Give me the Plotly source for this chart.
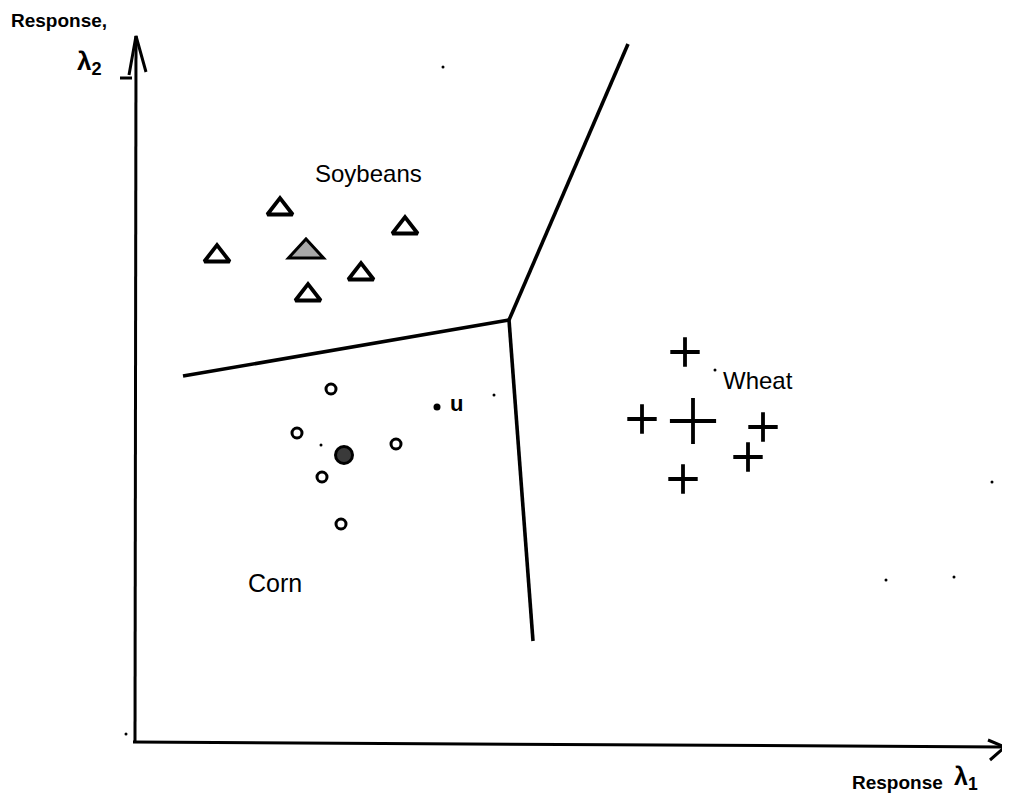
import plotly.graph_objects as go

# ---- data (x = response lambda1, y = response lambda2) ----
soy_x = [14.7, 8.4, 27.2, 22.8, 17.5]
soy_y = [53.3, 48.6, 51.4, 46.8, 44.7]
soy_mean = [17.3, 49.0]

corn_x = [19.8, 16.4, 26.3, 18.9, 20.8]
corn_y = [35.3, 30.9, 29.8, 26.5, 21.8]
corn_mean = [21.1, 28.7]

wheat_x = [55.2, 50.9, 63.0, 61.5, 55.0]
wheat_y = [39.0, 32.3, 31.5, 28.5, 26.3]
wheat_mean = [56.0, 32.1]

unknown = [30.4, 33.5]

# decision boundaries: vertex and three ends
vertex = [37.6, 42.2]
bound_ends_x = [5.0, 49.5, 40.0]
bound_ends_y = [36.6, 69.8, 10.1]

# scan specks
speck_x = [31.0, 85.9, 75.3, 82.1, 18.8, 36.1, -0.7, 58.2]
speck_y = [67.5, 26.0, 16.2, 16.5, 29.7, 34.7, 0.8, 37.2]

# axes geometry
y_axis_x = [0.2, 0.3]
y_axis_y = [0.0, 70.6]
y_arrow_x = [-0.4, 0.3, 1.3]
y_arrow_y = [66.7, 70.6, 67.0]
x_axis_x = [0.0, 87.2]
x_axis_y = [0.0, -0.5]
x_arrow_x = [85.5, 87.2, 85.7]
x_arrow_y = [0.2, -0.5, -1.8]
tick_x = [-1.3, -0.1]
tick_y = [66.4, 66.4]

FONT = "Liberation Sans, Arial, sans-serif"

fig = go.Figure()
line_style = dict(color="black", width=3.6)

# axes
for xs, ys in [(y_axis_x, y_axis_y), (y_arrow_x, y_arrow_y), (x_axis_x, x_axis_y),
               (x_arrow_x, x_arrow_y), (tick_x, tick_y)]:
    fig.add_trace(go.Scatter(x=xs, y=ys, mode="lines", line=dict(color="black", width=3),
                             hoverinfo="skip", showlegend=False))

# boundaries
for ex, ey in zip(bound_ends_x, bound_ends_y):
    fig.add_trace(go.Scatter(x=[vertex[0], ex], y=[vertex[1], ey], mode="lines",
                             line=line_style, showlegend=False))

# soybeans
fig.add_trace(go.Scatter(x=soy_x, y=soy_y, mode="markers", name="Soybeans",
                         marker=dict(symbol="triangle-up-open", size=22, color="black",
                                     line=dict(width=3.8, color="black")), showlegend=False))
# soybean class mean: flat hatched triangle built around the mean point
mx, my = soy_mean
fig.add_shape(type="path",
              path=f"M {mx-1.75} {my-0.6} L {mx+1.75} {my-0.6} L {mx} {my+1.3} Z",
              xref="x", yref="y", fillcolor="#a8a8a8", line=dict(color="black", width=3))

# corn
fig.add_trace(go.Scatter(x=corn_x, y=corn_y, mode="markers", name="Corn",
                         marker=dict(symbol="circle-open", size=10, color="black",
                                     line=dict(width=3, color="black")), showlegend=False))
fig.add_trace(go.Scatter(x=[corn_mean[0]], y=[corn_mean[1]], mode="markers",
                         marker=dict(symbol="circle", size=17, color="#3a3a3a",
                                     line=dict(width=3, color="black")), showlegend=False))

# wheat
fig.add_trace(go.Scatter(x=wheat_x, y=wheat_y, mode="markers", name="Wheat",
                         marker=dict(symbol="cross-thin-open", size=21, color="black",
                                     line=dict(width=3.8, color="black")), showlegend=False))
fig.add_trace(go.Scatter(x=[wheat_mean[0]], y=[wheat_mean[1]], mode="markers",
                         marker=dict(symbol="cross-thin-open", size=33, color="black",
                                     line=dict(width=3.8, color="black")), showlegend=False))

# unknown sample
fig.add_trace(go.Scatter(x=[unknown[0]], y=[unknown[1]], mode="markers",
                         marker=dict(symbol="circle", size=7, color="black"), showlegend=False))

# specks
fig.add_trace(go.Scatter(x=speck_x, y=speck_y, mode="markers",
                         marker=dict(symbol="circle", size=3, color="black"), showlegend=False))

annos = [
    dict(x=23.5, y=56.9, text="Soybeans", size=24),
    dict(x=14.2, y=15.9, text="Corn", size=25),
    dict(x=62.5, y=36.2, text="Wheat", size=24),
    dict(x=32.3, y=33.9, text="<b>u</b>", size=22),
    dict(x=-7.4, y=72.2, text="<b>Response,</b>", size=19),
    dict(x=-4.4, y=68.0, text="<b>λ<sub>2</sub></b>", size=26),
    dict(x=76.4, y=-4.0, text="<b>Response</b>", size=19),
    dict(x=83.3, y=-3.6, text="<b>λ<sub>1</sub></b>", size=25),
]
for a in annos:
    fig.add_annotation(x=a["x"], y=a["y"], text=a["text"], showarrow=False,
                       font=dict(family=FONT, size=a["size"], color="black"),
                       xanchor="center", yanchor="middle")

# the page body has an 8px margin, so the figure starts 8px in from the corner
fig.update_layout(
    width=1002, height=790,
    margin=dict(l=0, r=0, t=0, b=0),
    paper_bgcolor="white", plot_bgcolor="white",
    xaxis=dict(range=[-12.5, 87.7], visible=False, fixedrange=True),
    yaxis=dict(range=[-5.6, 73.4], visible=False, fixedrange=True),
    showlegend=False,
)

fig.write_html("out.html")
